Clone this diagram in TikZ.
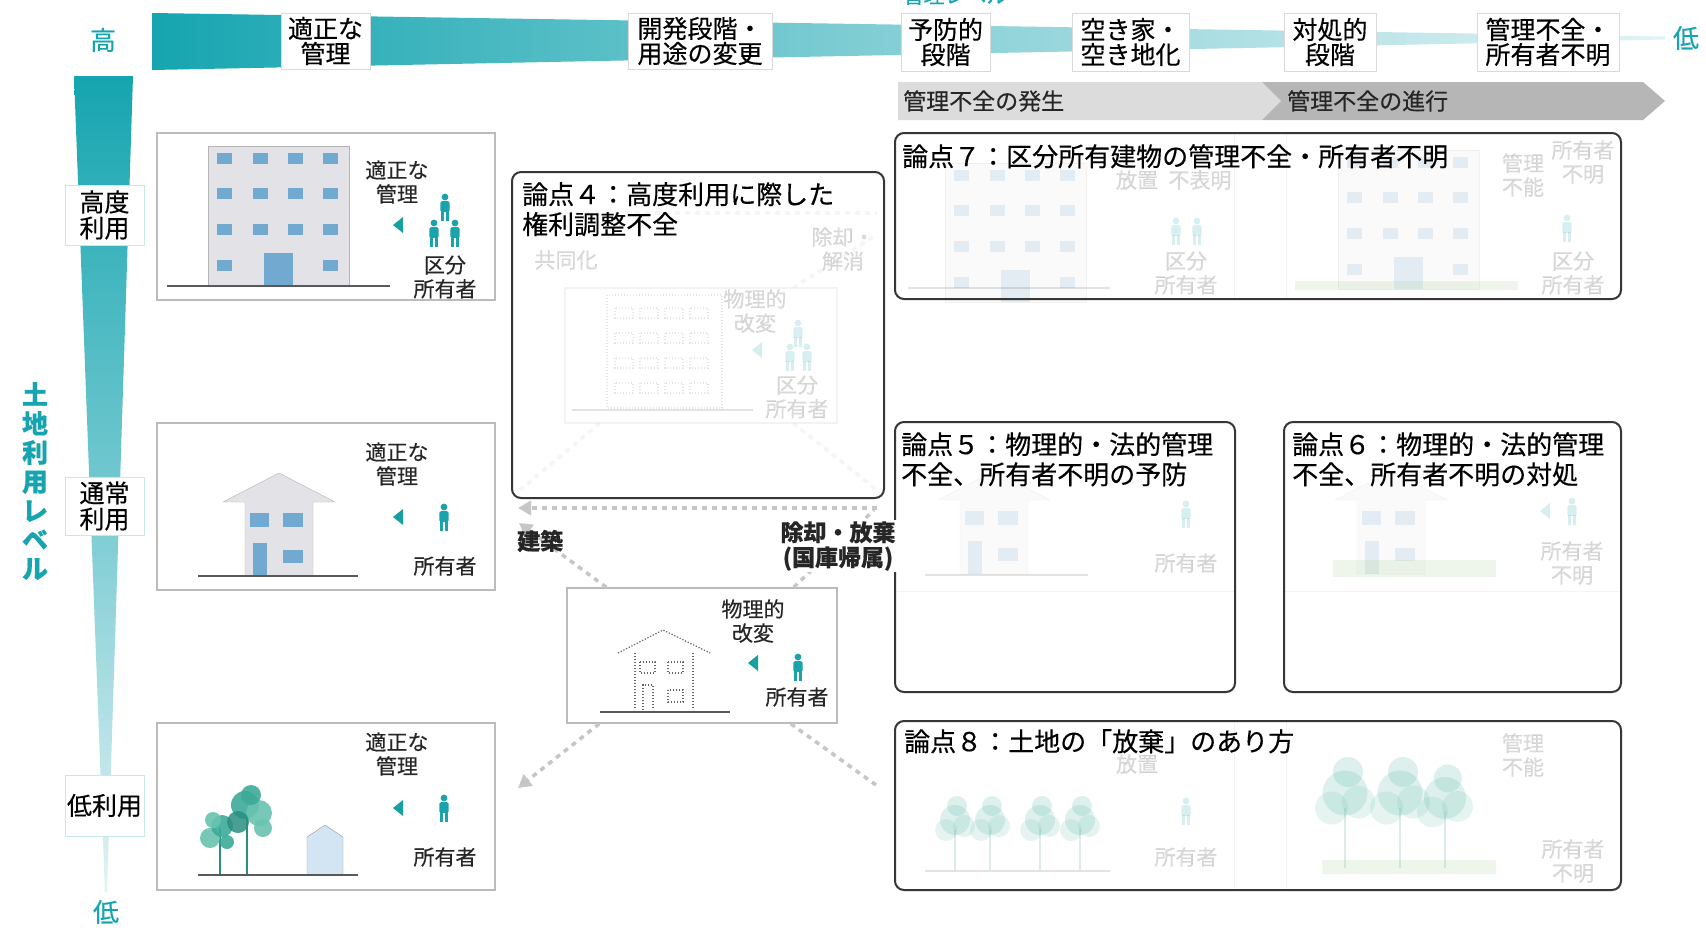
\documentclass[tikz,border=0pt]{standalone}
\usepackage{fontspec}
\setmainfont{Noto Sans CJK JP}[FakeBold=0.35]
\usetikzlibrary{arrows.meta,calc}

\definecolor{teal1}{HTML}{16A5B0}
\definecolor{tealL}{HTML}{E2F3F5}
\definecolor{icon}{HTML}{1AA3AD}
\definecolor{ptr}{HTML}{179FA2}
\definecolor{winblue}{HTML}{72A9D0}
\definecolor{bldg}{HTML}{E3E3E7}
\definecolor{bldgline}{HTML}{B5B5B8}
\definecolor{frame}{HTML}{BBBBBB}
\definecolor{dashgrey}{HTML}{C6C6C6}
\definecolor{boxline}{HTML}{363636}
\definecolor{barL}{HTML}{DCDCDC}
\definecolor{barD}{HTML}{B6B6B6}
\definecolor{leaf1}{HTML}{3DAA98}
\definecolor{leaf2}{HTML}{69C3B0}
\definecolor{leaf3}{HTML}{2A8F80}
\definecolor{grass}{HTML}{9CCB8F}
\definecolor{lowhouse}{HTML}{D3E5F3}

\newcommand\fsz[2]{\fontsize{#1}{#2}\selectfont}

\tikzset{
  toplab/.style={draw=black!15, fill=white, inner sep=0, align=center,
    font=\fsz{25}{25}, minimum height=56},
  sidelab/.style={draw=teal1!25, fill=white, inner sep=0, align=center,
    font=\fsz{25}{26}, minimum width=79},
  panel/.style={draw=frame, line width=1.2, minimum width=338,
    minimum height=167, inner sep=0},
  issue/.style={draw=boxline, line width=2, rounded corners=9, inner sep=0},
  ttl/.style={anchor=north west, inner sep=0, align=left, font=\fsz{26}{30}},
  ptext/.style={inner sep=0, align=center, font=\fsz{21}{24}, text=black!85},
  flow/.style={draw=dashgrey, line width=3.5pt, dash pattern=on 5pt off 5pt},
  flowtip/.style={-{Triangle[length=13pt,width=14pt]}},
  dotline/.style={draw=black!60, line width=1.2pt, dash pattern=on 1.3pt off 1.7pt},
  person/.pic={
    \fill[icon] (0,-10) circle (3.4);
    \fill[icon, rounded corners=1.5] (-4.6,-5.8) rectangle (4.6,5);
    \fill[icon] (-4,4) rectangle (-0.6,14);
    \fill[icon] (0.6,4) rectangle (4,14);
  },
  pointer/.pic={
    \fill[ptr] (-5,0) -- (5,-8) -- (5,8) -- cycle;
  },
  tower/.pic={
    \filldraw[fill=bldg, draw=bldgline] (0,0) rectangle (141,139);
    \foreach \cx in {9,45,80,115}
      \foreach \cy in {7,42,78}
        \fill[winblue] (\cx,\cy) rectangle ++(15,11);
    \fill[winblue] (9,114) rectangle ++(15,11);
    \fill[winblue] (115,114) rectangle ++(15,11);
    \fill[winblue] (56,107) rectangle (85,139);
  },
  house/.pic={
    \filldraw[fill=bldg, draw=bldgline] (-22,-74) -- (34,-103) -- (90,-74)
      -- (68,-74) -- (68,0) -- (0,0) -- (0,-74) -- cycle;
    \fill[winblue] (5,-63) rectangle (24,-49);
    \fill[winblue] (38,-63) rectangle (58,-49);
    \fill[winblue] (38,-26) rectangle (58,-13);
    \fill[winblue] (8,-33) rectangle (22,0);
  },
  tree/.pic={
    \draw[leaf3, line width=2pt] (0,0) -- (0,-40);
    \fill[leaf1] (0,-50) circle (15);
    \fill[leaf2] (-9,-40) circle (11);
    \fill[leaf2] (9,-44) circle (11);
    \fill[leaf1] (2,-64) circle (10);
  },
}

\begin{document}
\begin{tikzpicture}[x=1pt,y=-1pt]
\useasboundingbox (0,0) rectangle (1706,930);
\fill[white] (0,0) rectangle (1706,930);

% heading of the management axis, cut by the top edge
\begin{scope}
  \clip (0,0) rectangle (1706,930);
  \node[text=teal1, font=\fsz{21}{21}, anchor=south, inner sep=0] (lvl) at (955,5) {管理レベル};
\end{scope}

% ---- horizontal axis: management level ----
\shade[left color=teal1, right color=tealL, middle color=teal1!45!tealL]
  (152,13) -- (1665,36.5) -- (1665,39.5) -- (152,70) -- cycle;
\node[text=teal1, font=\fsz{26}{26}, inner sep=0] (hiH) at (103,40) {高};
\node[text=teal1, font=\fsz{26}{26}, inner sep=0] (loH) at (1686,38) {低};

\node[toplab, minimum width=89]  (t1) at (325.5,41) {適正な\\管理};
\node[toplab, minimum width=144] (t2) at (700,41)   {開発段階・\\用途の変更};
\node[toplab, minimum width=89, minimum height=58]  (t3) at (945.5,42) {予防的\\段階};
\node[toplab, minimum width=117, minimum height=58] (t4) at (1130.5,42) {空き家・\\空き地化};
\node[toplab, minimum width=92, minimum height=58]  (t5) at (1330,42) {対処的\\段階};
\node[toplab, minimum width=142, minimum height=58] (t6) at (1548,42) {管理不全・\\所有者不明};

% progress bars
\fill[barL] (898,82) -- (1262,82) -- (1281,101) -- (1262,120) -- (898,120) -- cycle;
\fill[barD] (1262,82) -- (1643,82) -- (1665,101) -- (1643,120) -- (1262,120) -- (1281,101) -- cycle;
\node[anchor=west, font=\fsz{23}{23}, inner sep=0, text=black!85] (b1) at (903,101) {管理不全の発生};
\node[anchor=west, font=\fsz{23}{23}, inner sep=0, text=black!85] (b2) at (1287,101) {管理不全の進行};

% ---- vertical axis: land use level ----
\shade[top color=teal1, bottom color=tealL, middle color=teal1!55!tealL]
  (74,76) -- (133,76) -- (107,892) -- (105,892) -- cycle;
\node[text=teal1, font=\fsz{26}{26}, inner sep=0] (loV) at (106,912) {低};
\node[text=teal1, font=\fsz{26}{29}\bfseries, align=center, inner sep=0] (axis) at (35,481)
  {土\\地\\利\\用\\レ\\ベ\\ル};
\node[sidelab, minimum height=60] (s1) at (104.5,215)   {高度\\利用};
\node[sidelab, minimum height=58] (s2) at (104.5,506)   {通常\\利用};
\node[sidelab, minimum height=61] (s3) at (104.5,805.5) {低利用};

% ---- left panels ----
\node[panel] (pA) at (326,216.5) {};
\pic at (208,146) {tower};
\draw[black!65, line width=1.5pt] (167,286) -- (390,286);
\node[ptext] (pAt) at (397,182) {適正な\\管理};
\pic at (398,225) {pointer};
\pic at (445,207) {person};
\pic at (434,233) {person};
\pic at (455,233) {person};
\node[ptext] (pAo) at (445,277) {区分\\所有者};

\node[panel] (pB) at (326,506.5) {};
\pic at (245,576) {house};
\draw[black!65, line width=1.5pt] (198,576) -- (358,576);
\node[ptext] (pBt) at (397,464) {適正な\\管理};
\pic at (398,517) {pointer};
\pic at (444,517) {person};
\node[ptext] (pBo) at (445,566) {所有者};

\node[panel] (pC) at (326,806.5) {};
\draw[leaf3, line width=2.2pt] (220,874) -- (220,828);
\draw[leaf3, line width=2.2pt] (247,874) -- (247,815);
\fill[leaf2, opacity=.9] (210,838) circle (10);
\fill[leaf1, opacity=.9] (222,826) circle (11);
\fill[leaf2, opacity=.9] (213,820) circle (8);
\fill[leaf1, opacity=.9] (227,842) circle (7);
\fill[leaf1, opacity=.9] (245,805) circle (14);
\fill[leaf2, opacity=.9] (259,813) circle (13);
\fill[leaf3, opacity=.85] (238,822) circle (11);
\fill[leaf2, opacity=.9] (263,828) circle (9);
\fill[leaf1, opacity=.9] (251,795) circle (10);
\filldraw[fill=lowhouse, draw=black!40] (307,875) -- (307,837) -- (325,825) -- (343,837) -- (343,875) -- cycle;
\draw[black!65, line width=1.5pt] (198,875) -- (358,875);
\node[ptext] (pCt) at (397,754) {適正な\\管理};
\pic at (398,808) {pointer};
\pic at (444,808) {person};
\node[ptext] (pCo) at (445,857) {所有者};

% ---- faded background scenes inside the issue boxes ----
\begin{scope}[opacity=0.17]
  % issue 4
  \draw[frame, line width=1.2pt] (565,288) rectangle (837,423);
  \draw[dotline] (607,295) rectangle (722,408);
  \foreach \cx in {615,640,665,690}
    \foreach \cy in {308,333,358,383}
      \draw[dotline] (\cx,\cy) rectangle ++(18,10);
  \draw[black!65, line width=1.5pt] (572,410) -- (753,410);
  \node[ptext] (f4a) at (755,311) {物理的\\改変};
  \pic at (757,350) {pointer};
  \pic at (798,333) {person};
  \pic at (790,357) {person};
  \pic at (807,357) {person};
  \node[ptext] (f4b) at (797,397) {区分\\所有者};
  \node[ptext] (f4c) at (843,249) {除却・\\解消};
  \node[ptext] (f4d) at (566,260) {共同化};
  \draw[flow] (600,423) -- (520,490);
  \draw[flow] (793,423) -- (877,490);
  \draw[flow] (793,288) -- (873,237);
  \draw[flow] (525,213) -- (877,213);
  % issue 7
  \pic at (945,163) {tower};
  \draw[black!65, line width=1.5pt] (908,288) -- (1110,288);
  \node[ptext] (f7a) at (1137,180) {放置};
  \node[ptext] (f7b) at (1200,180) {不表明};
  \pic at (1176,231) {person};
  \pic at (1197,231) {person};
  \node[ptext] (f7c) at (1186,273) {区分\\所有者};
  \draw[frame] (1234,133) -- (1234,299);
  \draw[frame] (1286,133) -- (1286,299);
  \pic at (1338,150) {tower};
  \fill[grass] (1295,281) rectangle (1518,290);
  \node[ptext] (f7d) at (1523,175) {管理\\不能};
  \node[ptext] (f7e) at (1583,162) {所有者\\不明};
  \pic at (1567,228) {person};
  \node[ptext] (f7f) at (1573,273) {区分\\所有者};
  % issues 5 and 6
  \pic at (960,574) {house};
  \draw[black!65, line width=1.5pt] (925,575) -- (1088,575);
  \pic at (1186,514) {person};
  \node[ptext] (f5a) at (1186,563) {所有者};
  \draw[frame] (895,591) -- (1235,591);
  \pic at (1357,574) {house};
  \fill[grass] (1333,560) rectangle (1496,577);
  \pic at (1545,511) {pointer};
  \pic at (1572,511) {person};
  \node[ptext] (f6a) at (1572,563) {所有者\\不明};
  \draw[frame] (1284,591) -- (1621,591);
  % issue 8
  \pic at (955,870) {tree};
  \pic at (990,870) {tree};
  \pic at (1040,870) {tree};
  \pic at (1080,870) {tree};
  \draw[black!65, line width=1.5pt] (925,871) -- (1110,871);
  \node[ptext] (f8a) at (1137,764) {放置};
  \pic at (1186,811) {person};
  \node[ptext] (f8b) at (1186,857) {所有者};
  \draw[frame] (1234,721) -- (1234,890);
  \draw[frame] (1286,721) -- (1286,890);
  \pic[scale=1.5] at (1345,868) {tree};
  \pic[scale=1.5] at (1400,868) {tree};
  \pic[scale=1.4] at (1445,868) {tree};
  \fill[grass] (1322,860) rectangle (1496,874);
  \node[ptext] (f8c) at (1523,755) {管理\\不能};
  \node[ptext] (f8d) at (1573,861) {所有者\\不明};
\end{scope}

% ---- issue boxes ----
\node[issue, minimum width=372, minimum height=326] (i4) at (698,335) {};
\node[ttl] (i4t) at ($(i4.north west)+(11,11)$) {論点４：高度利用に際した\\権利調整不全};
\node[issue, minimum width=726, minimum height=166] (i7) at (1258,216) {};
\node[ttl] (i7t) at ($(i7.north west)+(8,12)$) {論点７：区分所有建物の管理不全・所有者不明};
\node[issue, minimum width=340, minimum height=270] (i5) at (1065,557) {};
\node[ttl] (i5t) at ($(i5.north west)+(7,11)$) {論点５：物理的・法的管理\\不全、所有者不明の予防};
\node[issue, minimum width=337, minimum height=270] (i6) at (1452.5,557) {};
\node[ttl] (i6t) at ($(i6.north west)+(9,11)$) {論点６：物理的・法的管理\\不全、所有者不明の対処};
\node[issue, minimum width=726, minimum height=169] (i8) at (1258,805.5) {};
\node[ttl] (i8t) at ($(i8.north west)+(10,9)$) {論点８：土地の「放棄」のあり方};

% ---- changed land: dotted house ----
\node[draw=frame, line width=1.5pt, minimum width=270, minimum height=135, inner sep=0] (M) at (702,655.5) {};
\draw[dotline] (618,653) -- (663,630) -- (710,653);
\draw[dotline] (635,653) -- (635,710);
\draw[dotline] (693,653) -- (693,710);
\draw[dotline] (640,662) rectangle (655,673);
\draw[dotline] (668,662) rectangle (683,673);
\draw[dotline] (643,710) -- (643,685) -- (653,685) -- (653,710);
\draw[dotline] (668,690) rectangle (683,702);
\draw[black!65, line width=1.5pt] (600,712) -- (730,712);
\node[ptext] (Mt) at (753,621) {物理的\\改変};
\pic at (753,663) {pointer};
\pic at (798,667) {person};
\node[ptext] (Mo) at (797,697) {所有者};

% ---- transitions ----
\coordinate (hR) at (877,508);
\coordinate (hL) at (518,508);
\coordinate (nwEnd) at (519,523);
\coordinate (swEnd) at (518,788);
\coordinate (seEnd) at (876,785);
\coordinate (neEnd) at (874,510);
\draw[flow, flowtip] (hR) -- (hL);
\draw[flow, flowtip] ($(M.north west)+(40,0)$) -- (nwEnd);
\draw[flow, flowtip] ($(M.south west)+(33,0)$) -- (swEnd);
\draw[flow] ($(M.south east)+(-47,0)$) -- (seEnd);
\draw[flow] ($(M.north east)+(-44,0)$) -- (neEnd);

\node[anchor=west, inner sep=1, font=\fsz{23}{23}\bfseries, text=black!85] (build) at (516,541) {建築};
\node[fill=white, inner sep=1, align=center, font=\fsz{23}{25}\bfseries, text=black!85] (drop) at (838,546)
  {除却・放棄\\(国庫帰属)};
\end{tikzpicture}
\end{document}
